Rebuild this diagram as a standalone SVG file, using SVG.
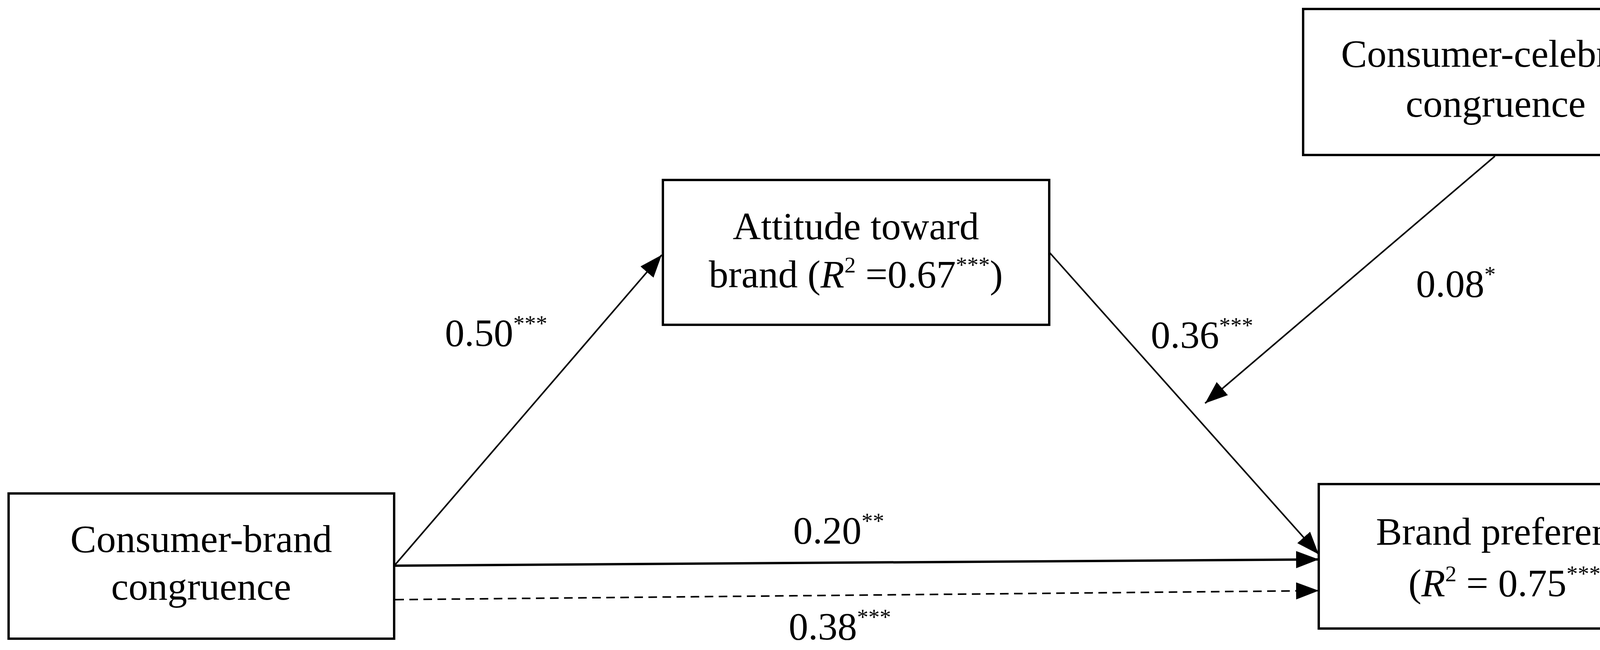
<svg xmlns="http://www.w3.org/2000/svg" width="4384" height="1665" viewBox="0 0 4384 1665">
<style>
.box{fill:#fff;stroke:#000;stroke-width:6}
text{font-family:"Liberation Serif",serif;font-size:100px;fill:#000;text-anchor:middle}
.sup{font-size:58px}
.c{stroke:#000;stroke-width:4;fill:none}
</style>
<defs>
<marker id="ah" markerUnits="userSpaceOnUse" markerWidth="60" markerHeight="50" refX="58" refY="22" orient="auto"><path d="M0,0 L58,22 L0,44 Z" fill="#000"/></marker>
</defs>
<rect width="4384" height="1665" fill="#fff"/>
<g id="connectors">
<line class="c" x1="1012" y1="1446" x2="1694" y2="653" marker-end="url(#ah)"/>
<line class="c" x1="2686" y1="646" x2="3376" y2="1420" marker-end="url(#ah)"/>
<line class="c" style="stroke-width:6" x1="1012" y1="1449" x2="3376" y2="1433" marker-end="url(#ah)"/>
<line class="c" stroke-dasharray="22,14" x1="1012" y1="1536" x2="3376" y2="1513" marker-end="url(#ah)"/>
<line class="c" x1="3827" y1="400" x2="3085" y2="1033" marker-end="url(#ah)"/>
</g>
<g id="celebrity"><rect class="box" x="3336" y="23" width="986" height="374"/>
<text x="3829" y="171">Consumer-celebrity</text><text x="3829" y="299">congruence</text></g>
<g id="attitude"><rect class="box" x="1697" y="461" width="989" height="371"/>
<text x="2191" y="613">Attitude toward</text>
<text x="2191" y="736">brand (<tspan font-style="italic">R</tspan><tspan class="sup" dy="-38">2</tspan><tspan dy="38"> =0.67</tspan><tspan class="sup" dy="-38">***</tspan><tspan dy="38">)</tspan></text></g>
<g id="consumerbrand"><rect class="box" x="22" y="1264" width="987" height="372"/>
<text x="515" y="1414">Consumer-brand</text><text x="515" y="1536">congruence</text></g>
<g id="brandpref"><rect class="box" x="3376" y="1240" width="985" height="370"/>
<text x="3868" y="1395">Brand preference</text>
<text x="3868" y="1527">(<tspan font-style="italic">R</tspan><tspan class="sup" dy="-38">2</tspan><tspan dy="38"> = 0.75</tspan><tspan class="sup" dy="-38">***</tspan><tspan dy="38">)</tspan></text></g>
<g id="labels">
<text x="1270" y="886">0.50<tspan class="sup" dy="-38">***</tspan></text>
<text x="3077" y="891">0.36<tspan class="sup" dy="-38">***</tspan></text>
<text x="3727" y="760">0.08<tspan class="sup" dy="-38">*</tspan></text>
<text x="2147" y="1392">0.20<tspan class="sup" dy="-38">**</tspan></text>
<text x="2150" y="1638">0.38<tspan class="sup" dy="-38">***</tspan></text>
</g>
</svg>
